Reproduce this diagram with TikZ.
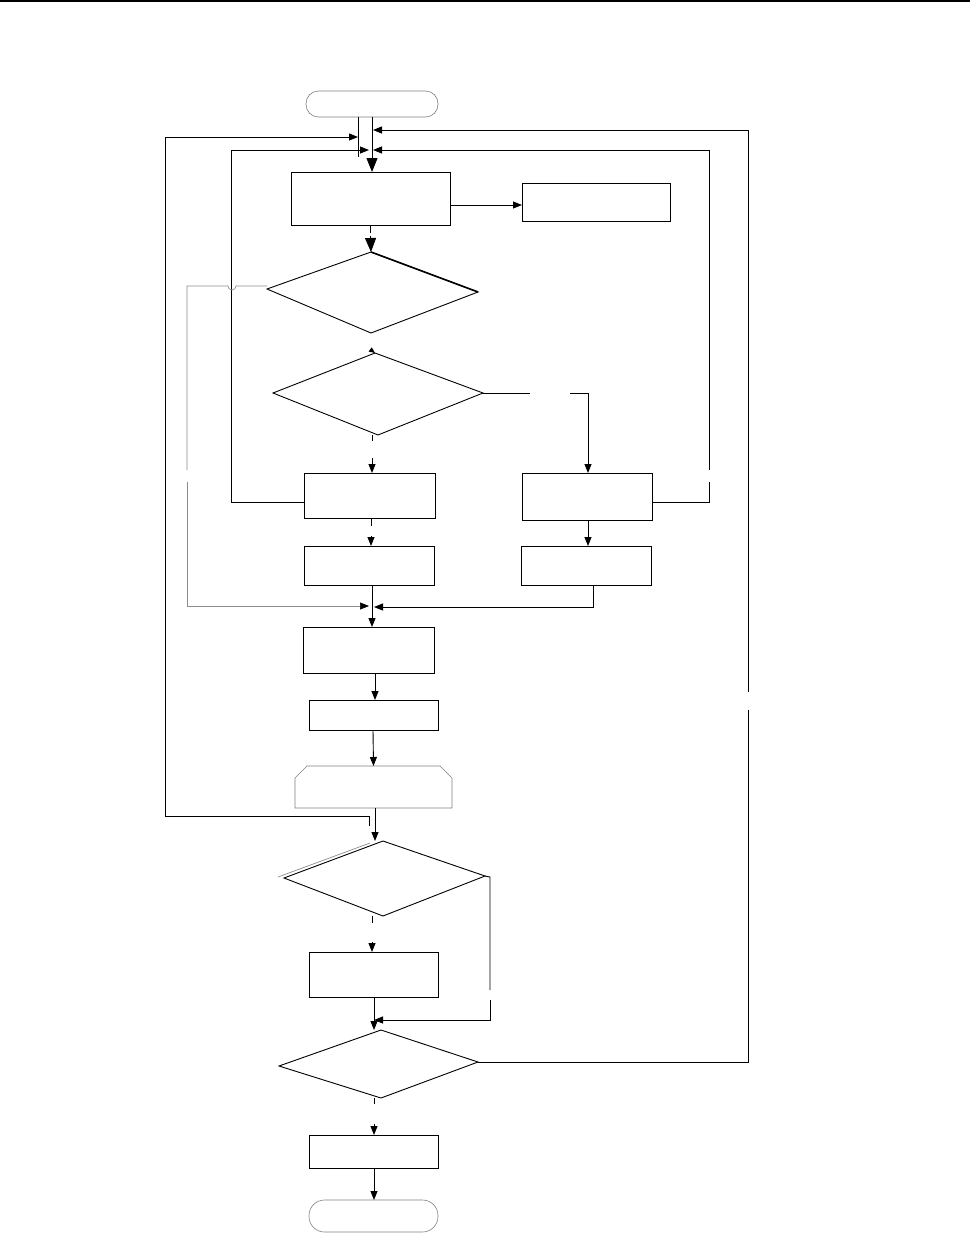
\documentclass[tikz,border=0pt]{standalone}
\usetikzlibrary{arrows.meta,calc}
\begin{document}
\begin{tikzpicture}[x=1pt,y=-1pt,
  ln/.style={line width=0.9pt,black},
  thin/.style={line width=0.6pt,black},
  gl/.style={line width=0.7pt,black!45},
  arr/.style={ln,-{Triangle[length=9pt,width=7pt]}},
  bigarr/.style={ln,-{Triangle[length=14pt,width=11pt]}},
  smallarr/.style={ln,-{Triangle[length=6pt,width=5pt]}},
  garr/.style={gl,-{Triangle[length=9pt,width=7pt,fill=black,color=black]}},
  box/.style 2 args={draw,line width=0.9pt,minimum width=#1,minimum height=#2,inner sep=0pt,outer sep=0pt},
  term/.style 2 args={draw=black!50,line width=0.6pt,minimum width=#1,minimum height=#2,inner sep=0pt,outer sep=0pt,rounded corners=#2/2-0.5pt},
  dia/.style={line width=0.9pt,black}
]
\useasboundingbox (0,0) rectangle (970,1235);
\draw[line width=2pt] (0,1) -- (970,1);

% terminals
\node[term={132pt}{26pt}] (start) at (372,104) {};
\node[term={129pt}{32pt}] (stop) at (373.5,1216) {};

% boxes
\node[box={159pt}{53pt}] (b1) at (370.5,198.5) {};
\node[box={148pt}{38pt}] (b2) at (596,202) {};
\node[box={131pt}{45pt}] (b3) at (369.5,495.5) {};
\node[box={130pt}{47pt}] (b4) at (587,496.5) {};
\node[box={130pt}{39pt}] (b5) at (369,565.5) {};
\node[box={130pt}{39pt}] (b6) at (586,565.5) {};
\node[box={131pt}{46pt}] (b7) at (368.5,650) {};
\node[box={129pt}{30pt}] (b8) at (373.5,715) {};
\node[box={129pt}{45pt}] (b10) at (373.5,974.5) {};
\node[box={129pt}{33pt}] (b11) at (373.5,1151.5) {};

% diamonds
\coordinate (d1t) at (371,252); \coordinate (d1l) at (267,289);
\coordinate (d1r) at (478,292); \coordinate (d1b) at (371,333);
\draw[dia] (d1t) -- (d1r) -- (d1b) -- (d1l) -- cycle;
\draw[line width=1.6pt] (d1t) -- (d1r);
\coordinate (d2t) at (375,353); \coordinate (d2l) at (273,393);
\coordinate (d2r) at (483,393); \coordinate (d2b) at (378,435);
\draw[dia] (d2t) -- (d2r) -- (d2b) -- (d2l) -- cycle;
\coordinate (d3t) at (383,841); \coordinate (d3l) at (284,878);
\coordinate (d3r) at (485,876); \coordinate (d3b) at (383,916);
\draw[dia] (d3t) -- (d3r) -- (d3b) -- (d3l) -- cycle;
\draw[gl] (d3l) ++(-6,-1) -- (370,843);
\coordinate (d4t) at (381,1030); \coordinate (d4l) at (279,1066);
\coordinate (d4r) at (478,1062); \coordinate (d4b) at (381,1098);
\draw[dia] (d4t) -- (d4r) -- (d4b) -- (d4l) -- cycle;

% chamfered shape
\coordinate (p9) at (373.5,766);
\draw[black!50,line width=0.6pt] (295,808) -- (295,778) -- (307,766) -- (440,766) -- (452,778) -- (452,808) -- cycle;
\coordinate (p9b) at (375,808);

% main flow
\draw[bigarr] (start.south) -- (start.south |- b1.north);
\draw[thin] (358,117) -- (358,157);
\draw[arr] (b1.east |- 0,205) -- (b2.west |- 0,205);
\draw[ln] (b1.south) -- ++(0,8);
\draw[bigarr] (370.5,236) -- (d1t);
\draw[smallarr] (d1b |- 0,350) -- (d2t);
\draw[ln] (372,435) -- (372,441);
\draw[arr] (372,458) -- (b3.north -| 372,0);
\draw[ln] (d2r) -- (530,393);
\draw[ln] (570,393) -- (588,393);
\draw[arr] (588,393) -- (b4.north -| 588,0);
\draw[ln] (371,518) -- (371,526);
\draw[arr] (371,536) -- (b5.north -| 371,0);
\draw[arr] (b4.south -| 588,0) -- (b6.north -| 588,0);
\draw[arr] (b5.south -| 372,0) -- (b7.north -| 372,0);
\draw[arr] (b7.south -| 375,0) -- (b8.north -| 375,0);
\draw[arr] (b8.south -| 373,0) -- (p9);
\draw[arr] (p9b) -- (d3t -| 375,0);
\draw[ln] (d3b -| 372,0) -- (372,923);
\draw[arr] (372,942) -- (b10.north -| 372,0);
\draw[arr] (b10.south -| 374,0) -- (d4t -| 374,0);
\draw[ln] (374,1098) -- (374,1104);
\draw[arr] (374,1124) -- (b11.north -| 374,0);
\draw[arr] (b11.south -| 374,0) -- (stop.north -| 374,0);

% loop from b3 (left)
\draw[arr] (b3.west |- 0,502) -- (231,502) -- (231,150) -- (369,150);
% loop from b4 (right)
\draw[ln] (b4.east |- 0,502) -- (709,502) -- (709,482);
\draw[arr] (709,470) -- (709,150) -- (373,150);
% outer right loop
\draw[ln] (d4r) -- (748,1062) -- (748,710);
\draw[arr] (748,692) -- (748,130) -- (373,130);
% outer left loop
\draw[arr] (369,826) -- (369,816) -- (165,816) -- (165,137) -- (358,137);
% gray loop from d1 left
\draw[gl] (d1l |- 0,286) -- (236,286) arc (0:180:4) -- (187,286) -- (187,470);
\draw[garr] (187,482) -- (187,606) -- (369,606);
% b6 to merge
\draw[arr] (b6.south -| 593,0) -- (593,607) -- (374,607);
% d3 right to merge above d4
\draw[ln] (d3r) -- (490,877) -- (490,990);
\draw[arr] (490,1000) -- (490,1020) -- (374,1020);
\end{tikzpicture}
\end{document}
